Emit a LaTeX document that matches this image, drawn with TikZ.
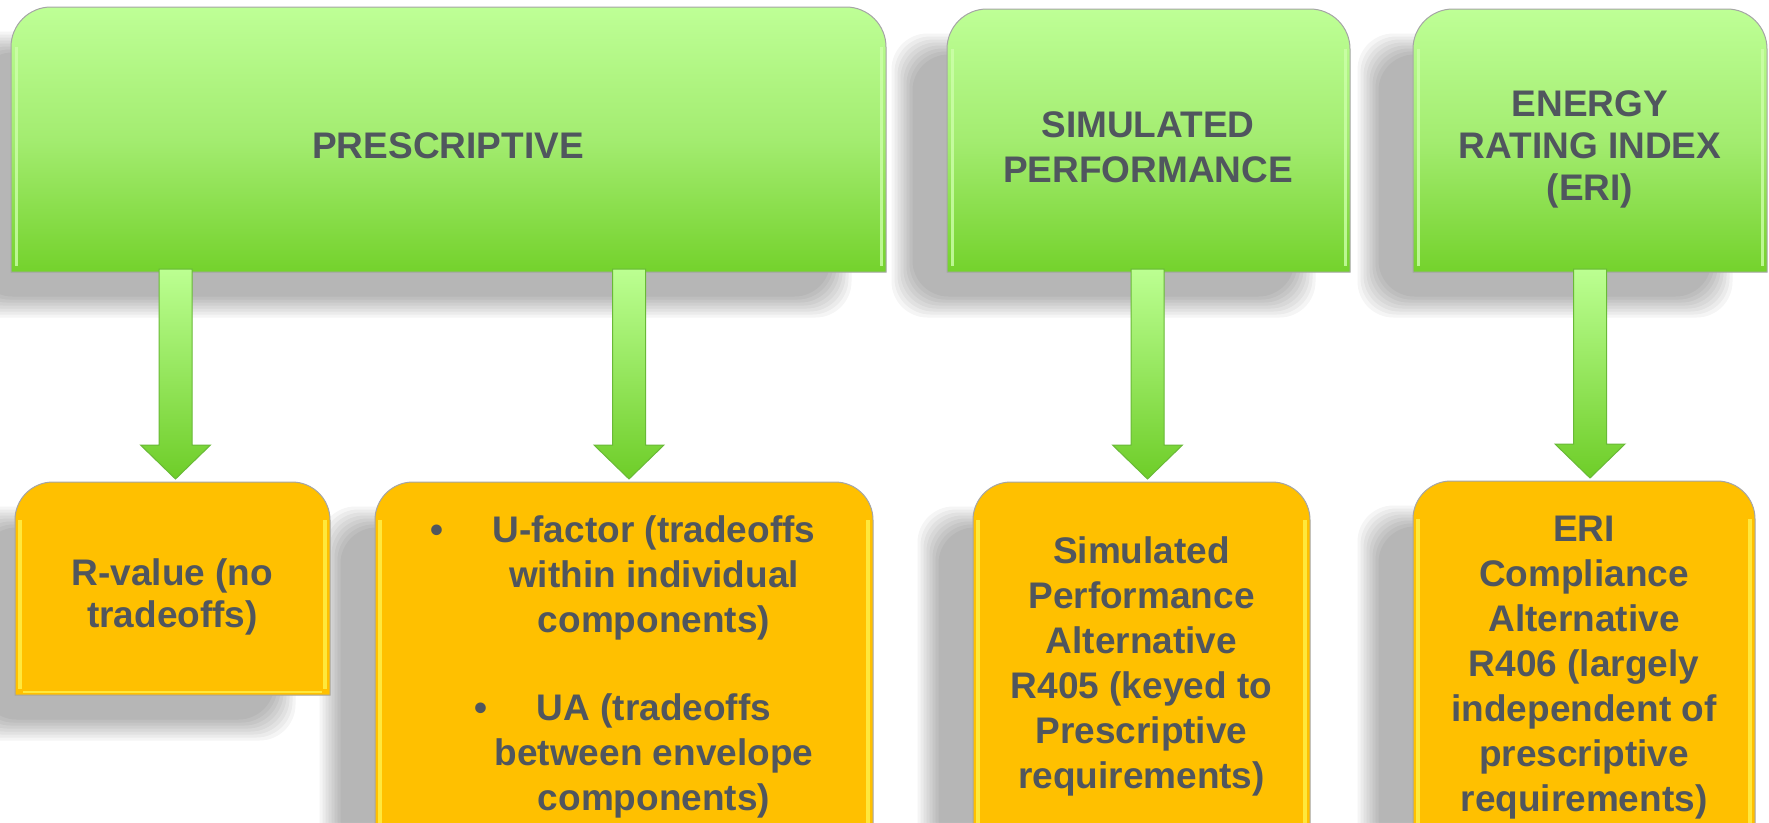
\documentclass[tikz,border=0pt]{standalone}
\usepackage{fontspec}
\setmainfont{Liberation Sans}
\usetikzlibrary{calc,shadings}
\pgfdeclarelayer{shadowlayer}
\pgfdeclarelayer{bg}
\pgfsetlayers{shadowlayer,bg,main}
\definecolor{txt}{RGB}{80,86,94}
\definecolor{gtop}{RGB}{190,255,150}
\definecolor{gmid}{RGB}{163,236,112}
\definecolor{gbot}{RGB}{116,210,44}
\definecolor{orng}{RGB}{255,192,0}
\definecolor{ohl}{RGB}{255,232,60}
\definecolor{ghl}{RGB}{205,255,170}
\definecolor{bord}{RGB}{165,165,165}
\definecolor{atop}{RGB}{188,255,146}
\definecolor{abot}{RGB}{110,205,40}
\definecolor{abord}{RGB}{105,185,55}
\tikzset{
  boxgeom/.style={draw=none, inner sep=0pt, outer sep=0pt, rectangle},
  lbl/.style={text=txt, font=\bfseries\fontsize{37}{45}\selectfont, align=center, inner sep=0pt},
  lbltight/.style={lbl, font=\bfseries\fontsize{37}{42}\selectfont},
  greenfill/.style={top color=gtop, bottom color=gbot, middle color=gmid, draw=bord, line width=1pt},
  orangefill/.style={fill=orng, draw=bord, line width=1pt},
  arrowshape/.style={top color=atop, bottom color=abot, draw=abord, line width=1pt},
  ghlline/.style={ghl, line width=3pt, opacity=0.8},
  ohlline/.style={ohl, line width=4pt},
}
% box with rounded top corners only
\newcommand\tbox[3]{\path[#3] (#1.south west) -- ([yshift=-#2]#1.north west)
  arc[start angle=180,end angle=90,radius=#2] -- ([xshift=-#2]#1.north east)
  arc[start angle=90,end angle=0,radius=#2] -- (#1.south east) -- cycle;}
\newcommand\bshadow[1]{\foreach \d in {-10.5,-7.5,...,10.5}{%
  \fill[black,fill opacity=0.038,rounded corners=36pt]
    ([shift={(-45+\d,-35+\d)}]#1.south west) rectangle ([shift={(-45-\d,-35-\d)}]#1.north east);}}
\newcommand\greenbox[1]{%
  \tbox{#1}{40pt}{greenfill}
  \draw[ghlline] ([shift={(5,-40)}]#1.north west) -- ([shift={(5,6)}]#1.south west);
  \draw[ghlline] ([shift={(-5,-40)}]#1.north east) -- ([shift={(-5,6)}]#1.south east);}
\newcommand\orangebox[1]{%
  \tbox{#1}{38pt}{orangefill}
  \draw[ohlline] ([shift={(5,-38)}]#1.north west) -- ([shift={(5,6)}]#1.south west);
  \draw[ohlline] ([shift={(-5,-38)}]#1.north east) -- ([shift={(-5,6)}]#1.south east);
  \draw[ohl, line width=2pt] ([shift={(8,3)}]#1.south west) -- ([shift={(-8,3)}]#1.south east);}
\newcommand\fatarrow[2]{%
  \path[arrowshape] let \p1=(#1), \p2=(#2) in
    (\x1-16.5pt,\y1) -- (\x1+16.5pt,\y1) -- (\x1+16.5pt,\y2+34pt) -- (\x1+35pt,\y2+34pt)
    -- (\x1,\y2) -- (\x1-35pt,\y2+34pt) -- (\x1-16.5pt,\y2+34pt) -- cycle;}
\begin{document}
\begin{tikzpicture}[x=1pt,y=1pt]
\useasboundingbox (0,0) rectangle (1769,-822);
% box geometry
\node[boxgeom, minimum width=875pt, minimum height=265pt] (pres)   at (448.5,-139.5) {};
\node[boxgeom, minimum width=403pt, minimum height=263pt] (sim)    at (1148.5,-140.5) {};
\node[boxgeom, minimum width=354pt, minimum height=263pt] (eri)    at (1590,-140.5) {};
\node[boxgeom, minimum width=315pt, minimum height=213pt] (rval)   at (172.5,-588.5) {};
\node[boxgeom, minimum width=498pt, minimum height=348pt] (ufac)   at (624,-656) {};
\node[boxgeom, minimum width=337pt, minimum height=348pt] (simalt) at (1141.5,-656) {};
\node[boxgeom, minimum width=342pt, minimum height=349pt] (erialt) at (1584,-655.5) {};
% texts
\node[lbl] (tpres) at (448,-146) {PRESCRIPTIVE};
\node[lbl] (tsim) at (1148,-147) {SIMULATED\\PERFORMANCE};
\node[lbltight] (teri) at (1590,-149) {ENERGY\\RATING INDEX\\(ERI)};
\node[lbltight] (trval) at (172.5,-596.5) {R-value (no\\tradeoffs)};
\node[lbl] (tufac) at (654,-666.5) {\llap{\textbullet\hspace{49.5pt}}U-factor (tradeoffs\\within individual\\components)\\[43pt]\llap{\textbullet\hspace{49pt}}UA (tradeoffs\\between envelope\\components)};
\node[lbl] (tsimalt) at (1141.5,-666) {Simulated\\Performance\\Alternative\\R405 (keyed to\\Prescriptive\\requirements)};
\node[lbl] (terialt) at (1584,-667.5) {ERI\\Compliance\\Alternative\\R406 (largely\\independent of\\prescriptive\\requirements)};
% shadows
\begin{pgfonlayer}{shadowlayer}
\fill[white] (0,0) rectangle (1769,-822);
\bshadow{pres}\bshadow{sim}\bshadow{eri}
\bshadow{rval}\bshadow{ufac}\bshadow{simalt}\bshadow{erialt}
\end{pgfonlayer}
% boxes
\begin{pgfonlayer}{bg}
\greenbox{pres}\greenbox{sim}\greenbox{eri}
\orangebox{rval}\orangebox{ufac}\orangebox{simalt}\orangebox{erialt}
\end{pgfonlayer}
% connectors
\fatarrow{$(pres.south -| rval.north)+(3,3)$}{$(rval.north)+(3,3)$}
\fatarrow{$(pres.south -| ufac.north)+(5,3)$}{$(ufac.north)+(5,3)$}
\fatarrow{$(sim.south)+(-1,3)$}{$(sim.south |- simalt.north)+(-1,3)$}
\fatarrow{$(eri.south)+(0,3)$}{$(eri.south |- erialt.north)+(0,3)$}
\end{tikzpicture}
\end{document}
